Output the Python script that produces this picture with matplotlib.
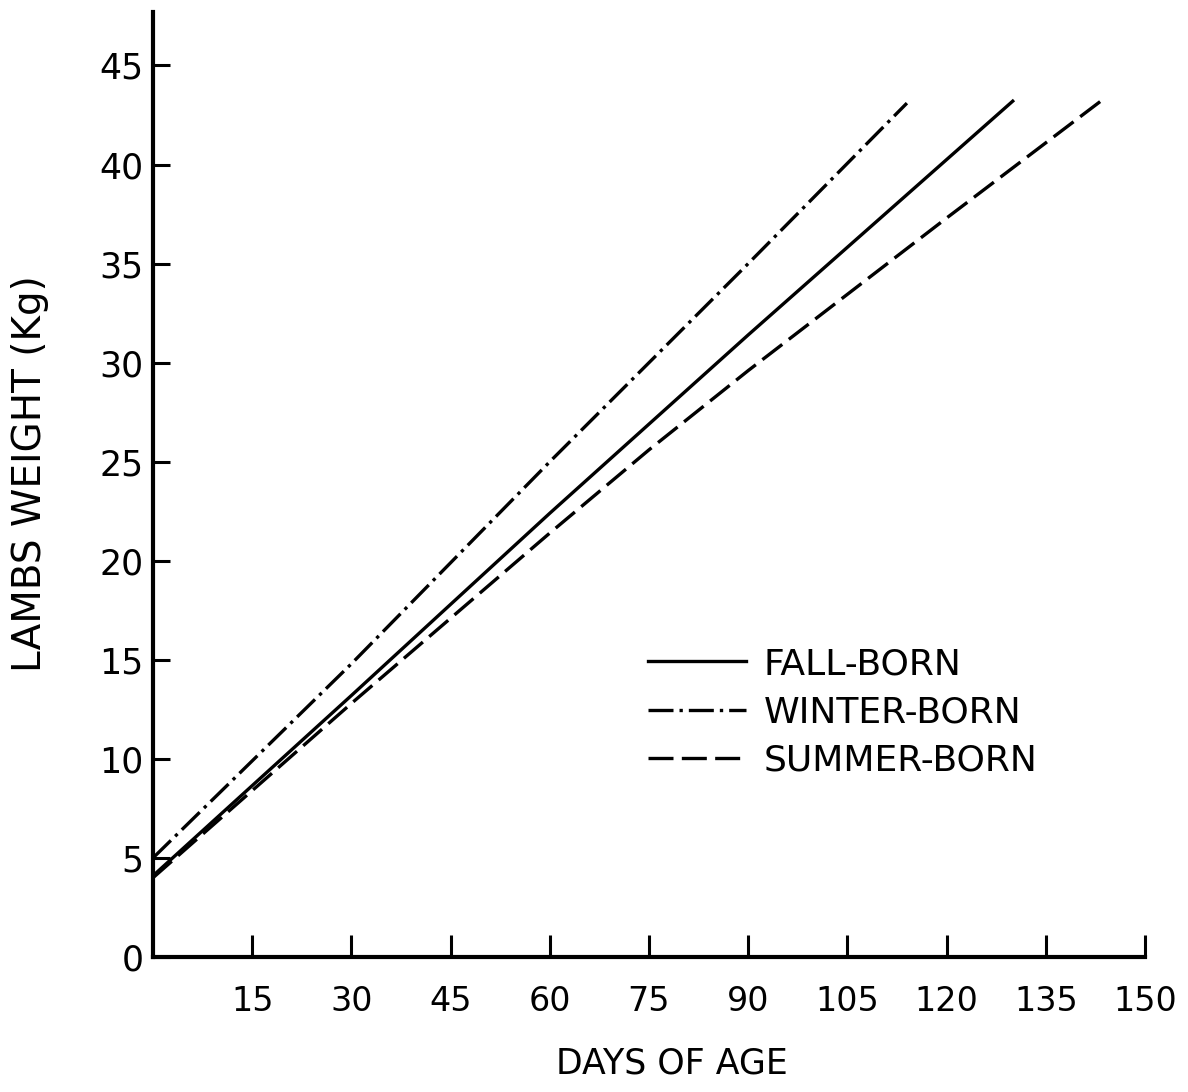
import matplotlib
matplotlib.use('Agg')
import matplotlib.pyplot as plt

# lamb growth
fall_days = [0, 30, 60, 90, 130]
fall_wt = [4.1, 13.2, 22.4, 31.4, 43.2]
winter_days = [0, 30, 60, 90, 114]
winter_wt = [5.0, 14.8, 25.0, 35.0, 43.1]
summer_days = [0, 30, 60, 75, 90, 120, 143.7]
summer_wt = [4.0, 12.8, 21.4, 25.6, 29.6, 37.3, 43.3]

x_ticks = [15, 30, 45, 60, 75, 90, 105, 120, 135, 150]
y_ticks = [0, 5, 10, 15, 20, 25, 30, 35, 40, 45]

plt.rcParams['font.family'] = ['DejaVu Sans']

fig = plt.figure(figsize=(11.88, 10.92), dpi=100)
ax = fig.add_axes([153 / 1188, 135 / 1092, 992 / 1188, 945 / 1092])

lw = 2.4
ax.plot(fall_days, fall_wt, color='black', lw=lw, ls='-', label='FALL-BORN')
ax.plot(winter_days, winter_wt, color='black', lw=lw,
        ls=(0, (7.5, 1.8, 1.0, 1.8)), label='WINTER-BORN')
ax.plot(summer_days, summer_wt, color='black', lw=lw,
        ls=(0, (7.5, 2.5)), label='SUMMER-BORN')

ax.set_xlim(0, 150)
ax.set_ylim(0, 47.7)
for s in ['top', 'right']:
    ax.spines[s].set_visible(False)
for s in ['left', 'bottom']:
    ax.spines[s].set_linewidth(3)

ax.set_xticks(x_ticks)
ax.set_xticklabels([str(t) for t in x_ticks])
ax.set_yticks(y_ticks)
ax.set_yticklabels([str(t) for t in y_ticks])
ax.tick_params(axis='x', direction='in', length=16, width=2.2, pad=20, labelsize=24)
ax.tick_params(axis='y', direction='in', length=12, width=2.2, pad=7, labelsize=25)

fig.text(30 / 1188, 1 - 474 / 1092, 'LAMBS WEIGHT (Kg)', rotation=90,
         ha='center', va='center', fontsize=28)
fig.text(672 / 1188, 1 - 1063 / 1092, 'DAYS OF AGE', ha='center', va='center',
         fontsize=25)

ax.legend(loc='upper left', bbox_to_anchor=(0.499, 0.328), frameon=False,
          fontsize=26, handlelength=2.7, handletextpad=0.5, labelspacing=0.4,
          borderpad=0, borderaxespad=0)

plt.savefig('out.png', dpi=100)
